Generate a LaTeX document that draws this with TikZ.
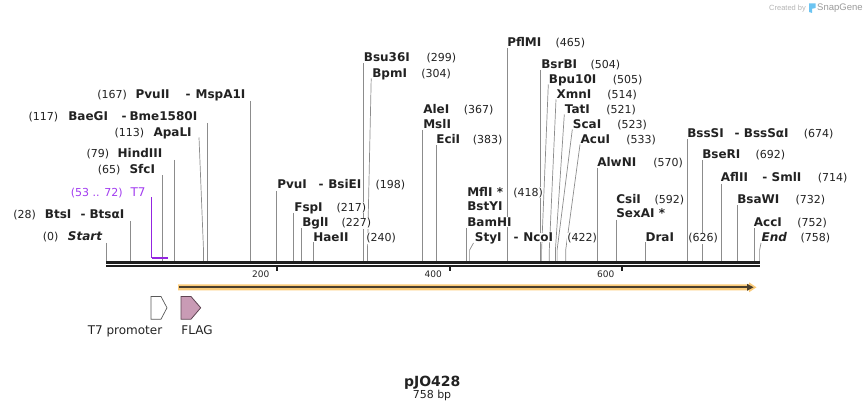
\documentclass[tikz,border=0pt]{standalone}
\usepackage{fontspec}
\setmainfont{DejaVu Sans}
\newfontfamily\libsans{Liberation Sans}
\usetikzlibrary{arrows.meta}
\definecolor{cutgray}{HTML}{8C8C8C}
\definecolor{seqblack}{HTML}{1E1E1E}
\definecolor{tpurple}{HTML}{A23CF0}
\definecolor{barpurple}{HTML}{9325E0}
\definecolor{featorange}{HTML}{FBCB7A}
\definecolor{featdark}{HTML}{4A3E2C}
\definecolor{flagpink}{HTML}{C99BB5}
\definecolor{flagedge}{HTML}{5E4452}
\definecolor{numgray}{HTML}{222222}
\definecolor{credgray}{HTML}{B4B4B4}
\definecolor{snapgray}{HTML}{9A9A9A}
\definecolor{snapblue}{HTML}{6CC4F2}
\newcommand\wb[1]{{\setlength\fboxsep{0.4pt}\colorbox{white}{#1}}}
\newcommand\pp[2]{\makebox[#1pt][l]{\wb{#2}}}
\newcommand\en[1]{{\fontsize{12}{13}\selectfont\bfseries #1}}
\newcommand\nm[1]{\wb{#1}}
\newcommand\vsite[3]{\coordinate (#1t) at (#2,#3); \coordinate (#1b) at (#2,261); \draw[cut] (#1t) -- (#1b);}
\newcommand\ssite[4]{\coordinate (#1t) at (#2,#3); \coordinate (#1k) at (#4,250); \coordinate (#1b) at (#4,261); \draw[cut] (#1t) -- (#1k) -- (#1b);}
\begin{document}
\begin{tikzpicture}[x=1pt,y=-1pt,
  cut/.style={draw=cutgray,line width=0.7pt},
  lab/.style={inner sep=0pt, anchor=base west, font=\fontsize{11}{13}\selectfont, text=numgray},
  ticklab/.style={inner sep=0pt, anchor=base east, font=\fontsize{9}{11}\selectfont, text=numgray},
  featlab/.style={inner sep=0pt, anchor=base, font=\fontsize{12}{14}\selectfont, text=numgray}]
\useasboundingbox (0,0) rectangle (866,411);

% ---- cut-site connectors ----
\vsite{s0}{106}{243}
\vsite{s28}{130.2}{221}
\vsite{s65}{162.3}{175.5}
\vsite{s79}{174.1}{160}
\ssite{s113}{199}{137.5}{203.5}
\vsite{s117}{206.9}{123}
\vsite{s167}{250}{101}
\vsite{s198}{276.8}{191}
\vsite{s217}{293.4}{213}
\vsite{s227}{301.8}{228.5}
\vsite{s240}{313}{242.5}
\vsite{s299}{363.2}{63.5}
\ssite{s304}{371.2}{78.5}{367.5}
\vsite{s367}{422.6}{130}
\vsite{s383}{436}{145.5}
\vsite{s418}{466.6}{228.5}
\ssite{s422}{473.5}{243}{469.6}
\vsite{s465}{507}{48.5}
\vsite{s504}{540.7}{70}
\ssite{s505}{548.3}{84.5}{541.6}
\ssite{s514}{556}{99.5}{549.3}
\ssite{s521}{564.3}{114.5}{555.4}
\ssite{s523}{572.3}{129.5}{557.1}
\ssite{s533}{580}{144.5}{565.7}
\vsite{s570}{597.2}{168}
\vsite{s592}{616.2}{220}
\vsite{s626}{645.5}{242.5}
\vsite{s674}{687}{139.5}
\vsite{s692}{702}{160.5}
\vsite{s714}{721}{184}
\vsite{s732}{737}{205.5}
\vsite{s752}{754}{228.5}
\ssite{s758}{761}{243}{759.6}

% ---- T7 primer site ----
\coordinate (t7t) at (151.7,197.5);
\coordinate (t7a) at (151.7,258);
\coordinate (t7b) at (168,258);
\draw[barpurple, line width=1pt] (t7t) -- (t7a);
\draw[barpurple, line width=2pt] (t7a) -- (t7b);

% ---- sequence ----
\coordinate (seqaL) at (106,262.3); \coordinate (seqaR) at (760,262.3);
\coordinate (seqbL) at (106,266.2); \coordinate (seqbR) at (760,266.2);
\draw[seqblack, line width=2.5pt] (seqaL) -- (seqaR);
\draw[seqblack, line width=2.3pt] (seqbL) -- (seqbR);

% ticks
\fill[seqblack] (276.3,267) rectangle (278.3,271.5);
\fill[seqblack] (448.8,267) rectangle (450.8,271.5);
\fill[seqblack] (621.3,267) rectangle (623.3,271.5);
\node[ticklab] (k200) at (269.5,277.5) {200};
\node[ticklab] (k400) at (442,277.5) {400};
\node[ticklab] (k600) at (614.5,277.5) {600};

% ---- left labels ----
\node[lab] (l0) at (42.3,241) {\pp{25}{(0)}\nm{\en{\itshape Start}}};
\node[lab] (l28) at (12.7,218.4) {\pp{31.6}{(28)}\pp{35.7}{\en{BtsI}}\pp{9}{\en{-}}\nm{\en{BtsαI}}};
\node[lab, text=tpurple] (lt7) at (70.3,196.7) {\pp{59.7}{(53 .. 72)}\nm{\fontsize{12}{13}\selectfont T7}};
\node[lab] (l65) at (97.3,173.4) {\pp{31.7}{(65)}\nm{\en{SfcI}}};
\node[lab] (l79) at (86,157.7) {\pp{31}{(79)}\nm{\en{HindIII}}};
\node[lab] (l113) at (114,136.1) {\pp{39}{(113)}\nm{\en{ApaLI}}};
\node[lab] (l117) at (28,120.4) {\pp{39.7}{(117)}\pp{53.3}{\en{BaeGI}}\pp{8}{\en{-}}\nm{\en{Bme1580I}}};
\node[lab] (l167) at (96.7,98.4) {\pp{38.3}{(167)}\pp{50}{\en{PvuII}}\pp{10}{\en{-}}\nm{\en{MspA1I}}};

% ---- right labels ----
\node[lab] (l198) at (276.7,188.4) {\pp{41.3}{\en{PvuI}}\pp{9.7}{\en{-}}\pp{47.3}{\en{BsiEI}}\nm{(198)}};
\node[lab] (l217) at (293.7,211.1) {\pp{42.3}{\en{FspI}}\nm{(217)}};
\node[lab] (l227) at (301.7,226.7) {\pp{39.3}{\en{BglI}}\nm{(227)}};
\node[lab] (l240) at (312.7,241.7) {\pp{53}{\en{HaeII}}\nm{(240)}};
\node[lab] (l299) at (363.3,61.7) {\pp{62.7}{\en{Bsu36I}}\nm{(299)}};
\node[lab] (l304) at (371.7,77.1) {\pp{49}{\en{BpmI}}\nm{(304)}};
\node[lab] (l367) at (422.7,113.4) {\pp{40.6}{\en{AleI}}\nm{(367)}};
\node[lab] (lmsl) at (422.7,128.4) {\nm{\en{MslI}}};
\node[lab] (l383) at (435.7,143.4) {\pp{36.6}{\en{EciI}}\nm{(383)}};
\node[lab] (l418) at (466.7,196.1) {\pp{46}{\en{MflI *}}\nm{(418)}};
\node[lab] (lbst) at (466.7,210.4) {\nm{\en{BstYI}}};
\node[lab] (lbam) at (466.7,226.1) {\nm{\en{BamHI}}};
\node[lab] (l422) at (474.3,241.7) {\pp{38.7}{\en{StyI}}\pp{9.7}{\en{-}}\pp{44}{\en{NcoI}}\nm{(422)}};
\node[lab] (l465) at (506.7,46.7) {\pp{48.3}{\en{PflMI}}\nm{(465)}};
\node[lab] (l504) at (540.7,68.4) {\pp{49.3}{\en{BsrBI}}\nm{(504)}};
\node[lab] (l505) at (548.3,83.4) {\pp{64}{\en{Bpu10I}}\nm{(505)}};
\node[lab] (l514) at (556,98.4) {\pp{50.7}{\en{XmnI}}\nm{(514)}};
\node[lab] (l521) at (564.3,113.4) {\pp{41.4}{\en{TatI}}\nm{(521)}};
\node[lab] (l523) at (572.3,128.4) {\pp{44.4}{\en{ScaI}}\nm{(523)}};
\node[lab] (l533) at (580,143.4) {\pp{45.7}{\en{AcuI}}\nm{(533)}};
\node[lab] (l570) at (596.7,166.7) {\pp{56}{\en{AlwNI}}\nm{(570)}};
\node[lab] (l592) at (615.7,203.4) {\pp{38.3}{\en{CsiI}}\nm{(592)}};
\node[lab] (lsex) at (615.7,217.7) {\nm{\en{SexAI *}}};
\node[lab] (l626) at (645,241.7) {\pp{42.7}{\en{DraI}}\nm{(626)}};
\node[lab] (l674) at (686.7,137.1) {\pp{47.3}{\en{BssSI}}\pp{9.3}{\en{-}}\pp{60}{\en{BssSαI}}\nm{(674)}};
\node[lab] (l692) at (701.7,158.7) {\pp{53.3}{\en{BseRI}}\nm{(692)}};
\node[lab] (l714) at (720.3,181.4) {\pp{41.4}{\en{AflII}}\pp{9.3}{\en{-}}\pp{46.3}{\en{SmlI}}\nm{(714)}};
\node[lab] (l732) at (736.7,203.4) {\pp{58.3}{\en{BsaWI}}\nm{(732)}};
\node[lab] (l752) at (753.3,226.1) {\pp{43.4}{\en{AccI}}\nm{(752)}};
\node[lab] (l758) at (761,241.1) {\pp{39}{\en{\itshape End}}\nm{(758)}};

% ---- features ----
\fill[featorange] (178,284.3) -- (749,284.3) -- (749,282.3) -- (756.5,287.3) -- (749,292.3) -- (749,290.3) -- (178,290.3) -- cycle;
\draw[featdark, line width=1.8pt] (179,287.3) -- (748,287.3);
\fill[featdark] (747,283.8) -- (753.5,287.3) -- (747,290.8) -- cycle;

\draw[draw=gray!70!black, fill=white, line width=0.7pt] (151,296.5) -- (161,296.5) -- (167,307.8) -- (161,319.2) -- (151,319.2) -- cycle;
\draw[draw=flagedge, fill=flagpink, line width=0.8pt] (181,296.5) -- (191,296.5) -- (200.7,307.8) -- (191,319.2) -- (181,319.2) -- cycle;
\node[featlab] (t7lab) at (125,334.7) {T7 promoter};
\node[featlab] (flaglab) at (197,334.7) {FLAG};

% ---- title ----
\node[inner sep=0pt, anchor=base, font=\fontsize{14}{16}\selectfont\bfseries, text=numgray] (title) at (432.2,386) {pJO428};
\node[inner sep=0pt, anchor=base, font=\fontsize{11}{13}\selectfont, text=numgray] (size) at (432,398.3) {758 bp};

% ---- credit ----
\node[inner sep=0pt, anchor=base west, font=\libsans\fontsize{7.5}{9}\selectfont, text=credgray] (cb) at (769,10.5) {Created by};
\fill[snapblue] (809,3.5) -- (815.5,3.5) -- (815.5,8) -- (812,8.8) -- (812,13) -- (809,12) -- cycle;
\node[inner sep=0pt, anchor=base west, font=\libsans\fontsize{9.5}{11}\selectfont, text=snapgray] (sg) at (817,10.7) {SnapGene};
\end{tikzpicture}
\end{document}
